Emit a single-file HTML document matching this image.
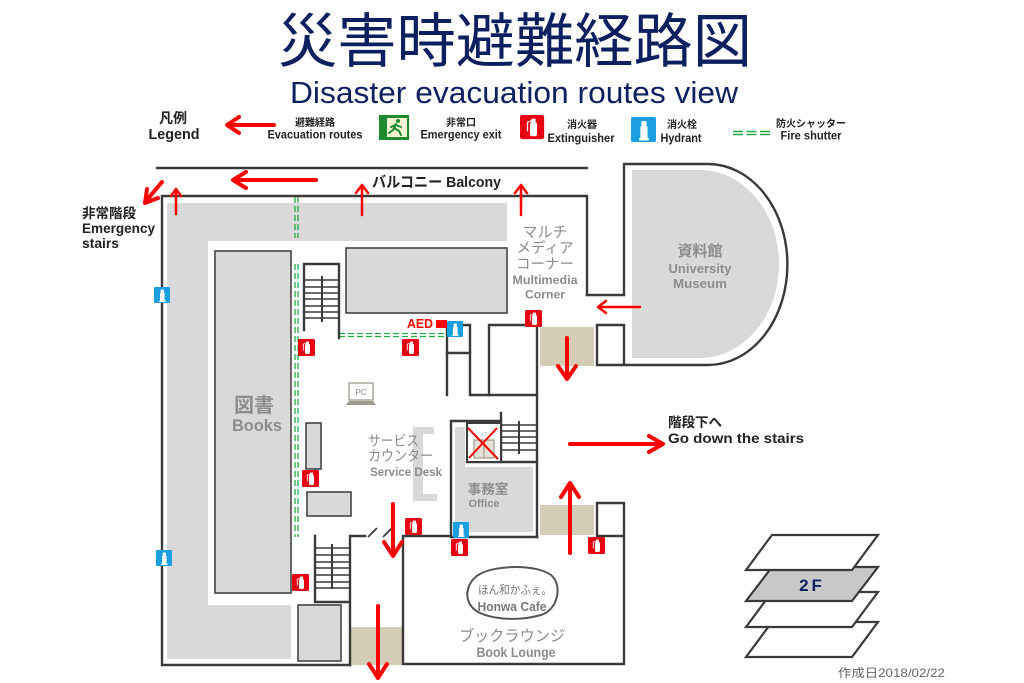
<!DOCTYPE html>
<html><head><meta charset="utf-8"><style>
html,body{margin:0;padding:0;background:#fff;}
svg{display:block;}
text{font-family:"Liberation Sans","Noto Sans CJK JP",sans-serif;}
</style></head><body>
<svg width="1024" height="683" viewBox="0 0 1024 683" xmlns="http://www.w3.org/2000/svg">
<defs>
<g id="ext">
<rect x="0" y="0" width="17" height="17" rx="1.5" fill="#e60012"/>
<rect x="7" y="5" width="5" height="10" rx="1.6" fill="#fff"/>
<rect x="8" y="2.6" width="3" height="2.8" fill="#fff"/>
<path d="M8,4 L5.3,5.2 L5.3,11.5" stroke="#fff" stroke-width="0.9" fill="none"/>
</g>
<g id="hyd">
<rect x="0" y="0" width="16" height="16" rx="1" fill="#1a9fe0"/>
<rect x="6" y="6" width="4.6" height="9" fill="#fff"/>
<rect x="6.6" y="2.5" width="3.4" height="3.8" rx="1.2" fill="#fff"/>
<rect x="5.2" y="13.5" width="6.2" height="1.5" fill="#fff"/>
</g>
</defs>

<!-- Title -->
<text x="515" y="62" font-size="59" fill="#0c1f5f" text-anchor="middle" textLength="474" lengthAdjust="spacingAndGlyphs" style="font-family:'Noto Sans CJK JP','Liberation Sans',sans-serif;font-weight:400">災害時避難経路図</text>
<text x="514" y="103" font-size="31" fill="#0c1f5f" text-anchor="middle" textLength="448" lengthAdjust="spacingAndGlyphs">Disaster evacuation routes view</text>

<!-- Legend -->
<text x="173" y="123" font-size="14" font-weight="bold" fill="#222" text-anchor="middle">凡例</text>
<text x="174" y="139" font-size="15" font-weight="bold" fill="#222" text-anchor="middle" textLength="51" lengthAdjust="spacingAndGlyphs">Legend</text>
<g stroke="#f00" stroke-width="4" fill="none" stroke-linecap="round" stroke-linejoin="round">
<line x1="274" y1="125" x2="229" y2="125"/><polyline points="239,117 227,125 239,133"/>
</g>
<text x="315" y="126" font-size="10" font-weight="bold" fill="#222" text-anchor="middle">避難経路</text>
<text x="315" y="138.5" font-size="11.5" font-weight="bold" fill="#222" text-anchor="middle" textLength="95" lengthAdjust="spacingAndGlyphs">Evacuation routes</text>
<!-- exit sign -->
<rect x="379" y="115" width="30" height="25" fill="#1d8a2f"/>
<rect x="386" y="118" width="21" height="19" fill="#f6f6d2"/>
<rect x="382" y="118" width="5" height="19" fill="#1d8a2f"/>
<circle cx="398" cy="121" r="2" fill="#1d8a2f"/>
<path d="M396,124 L393,130 L389,133 M394,128 L399,131 L401,135 M396,125 L401,127 M395,125 L391,127" stroke="#1d8a2f" stroke-width="2" fill="none" stroke-linecap="round"/>
<text x="461" y="126" font-size="10" font-weight="bold" fill="#222" text-anchor="middle">非常口</text>
<text x="461" y="138.5" font-size="11.5" font-weight="bold" fill="#222" text-anchor="middle" textLength="81" lengthAdjust="spacingAndGlyphs">Emergency exit</text>
<use href="#ext" transform="translate(520,115) scale(1.42)"/>
<text x="582" y="128" font-size="10" font-weight="bold" fill="#222" text-anchor="middle">消火器</text>
<text x="581" y="142" font-size="11.5" font-weight="bold" fill="#222" text-anchor="middle" textLength="67" lengthAdjust="spacingAndGlyphs">Extinguisher</text>
<use href="#hyd" transform="translate(631,117) scale(1.56)"/>
<text x="682" y="128" font-size="10" font-weight="bold" fill="#222" text-anchor="middle">消火栓</text>
<text x="681" y="142" font-size="11.5" font-weight="bold" fill="#222" text-anchor="middle" textLength="41" lengthAdjust="spacingAndGlyphs">Hydrant</text>
<g stroke="#22aa44" stroke-width="1.4" stroke-dasharray="10,3.5">
<line x1="733" y1="131.5" x2="773" y2="131.5"/><line x1="733" y1="134.5" x2="773" y2="134.5"/>
</g>
<text x="811" y="127" font-size="10" font-weight="bold" fill="#222" text-anchor="middle">防火シャッター</text>
<text x="811" y="139.5" font-size="11.5" font-weight="bold" fill="#222" text-anchor="middle" textLength="61" lengthAdjust="spacingAndGlyphs">Fire shutter</text>

<!-- gray fills -->
<path d="M167,203 H507 V241 H208 V605 H291 V659 H167 Z" fill="#d9d9d9"/>
<rect x="215" y="251" width="76" height="342" fill="#d9d9d9" stroke="#444" stroke-width="1.6"/>
<rect x="346" y="248" width="161" height="65" fill="#d9d9d9" stroke="#444" stroke-width="1.6"/>
<rect x="306" y="423" width="15" height="46" fill="#d9d9d9" stroke="#444" stroke-width="1.6"/>
<rect x="307" y="492" width="44" height="24" fill="#d9d9d9" stroke="#444" stroke-width="1.6"/>
<rect x="298" y="605" width="43" height="56" fill="#d9d9d9" stroke="#444" stroke-width="1.6"/>
<path d="M632,170 H700 A79,94 0 0 1 700,358 H632 Z" fill="#d9d9d9"/>
<path d="M455,427 H465 V467 H533 V532 H455 Z" fill="#d9d9d9"/>
<path d="M413,427 H434 V434 H423 V494 H437 V501 H413 Z" fill="#d9d9d9"/>
<rect x="540" y="327" width="54" height="39" fill="#d4ccb6"/>
<rect x="540" y="505" width="54" height="30" fill="#d4ccb6"/>
<rect x="351" y="627" width="51" height="38" fill="#d4ccb6"/>

<!-- green fire shutters -->
<g stroke="#22aa44" stroke-width="1.3" stroke-dasharray="6,3" fill="none">
<line x1="295" y1="197" x2="295" y2="238"/><line x1="298" y1="197" x2="298" y2="238"/>
<line x1="295" y1="264" x2="295" y2="537"/><line x1="298" y1="264" x2="298" y2="537"/>
<line x1="339" y1="333.5" x2="447" y2="333.5"/><line x1="339" y1="336.5" x2="447" y2="336.5"/>
</g>

<!-- walls -->
<g stroke="#3a3a3a" stroke-width="2.4" fill="none" stroke-linecap="square">
<path d="M157,168 H587"/>
<path d="M587,295 V196 H162 V665 H350"/>
<path d="M350,665 V536 H365"/>
<path d="M451,536 H403 V664 H624 V503 H597 V536 H624"/>
<path d="M501,421 H451 V537 H537"/>
<path d="M537,325 V537"/>
<path d="M467,462 H537"/>
<path d="M501,413 V462"/>
<path d="M447,395 V325 H470 V395 H537"/>
<path d="M447,353 H470"/>
<path d="M489,395 V325 H537"/>
<path d="M624,295 V164 H708 A79,100 0 0 1 708,365 H597 V325 H624 V365"/>
<path d="M587,295 H624"/>
<path d="M304,330 V264 H339 V338"/>
<path d="M315,536 V602 H349"/>
</g>
<g stroke="#3a3a3a" stroke-width="1.8">
<line x1="368" y1="537" x2="377" y2="528"/><line x1="383" y1="537" x2="392" y2="528"/>
</g>
<!-- stairs steps -->
<g stroke="#3a3a3a" stroke-width="1.5">
<line x1="304" y1="280" x2="339" y2="280"/><line x1="304" y1="287" x2="339" y2="287"/>
<line x1="304" y1="293" x2="339" y2="293"/><line x1="304" y1="299" x2="339" y2="299"/>
<line x1="304" y1="306" x2="339" y2="306"/><line x1="304" y1="312" x2="339" y2="312"/>
<line x1="304" y1="318" x2="339" y2="318"/><line x1="322" y1="276" x2="322" y2="322" stroke-width="2"/>
<line x1="315" y1="548" x2="349" y2="548"/><line x1="315" y1="555" x2="349" y2="555"/>
<line x1="315" y1="562" x2="349" y2="562"/><line x1="315" y1="568" x2="349" y2="568"/>
<line x1="315" y1="575" x2="349" y2="575"/><line x1="315" y1="582" x2="349" y2="582"/>
<line x1="315" y1="588" x2="349" y2="588"/><line x1="332" y1="544" x2="332" y2="589" stroke-width="2"/>
<line x1="501" y1="425" x2="537" y2="425"/><line x1="501" y1="431" x2="537" y2="431"/>
<line x1="501" y1="437" x2="537" y2="437"/><line x1="501" y1="443" x2="537" y2="443"/>
<line x1="501" y1="450" x2="537" y2="450"/><line x1="519" y1="421" x2="519" y2="454" stroke-width="2"/>
</g>
<!-- elevator -->
<rect x="467" y="423" width="34" height="39" fill="#fff" stroke="#3a3a3a" stroke-width="2"/>
<rect x="474" y="440" width="20" height="18" fill="#e6e2d8" stroke="#a09a8c" stroke-width="1.2"/>
<line x1="484" y1="440" x2="484" y2="458" stroke="#a09a8c" stroke-width="1.2"/>
<text x="484" y="436" font-size="7" fill="#888" text-anchor="middle">↓↑</text>
<g stroke="#f00" stroke-width="2"><line x1="468" y1="428" x2="498" y2="459"/><line x1="497" y1="428" x2="469" y2="458"/></g>

<!-- PC -->
<rect x="349" y="383" width="24" height="17" fill="#fff" stroke="#a09a8c" stroke-width="1.3"/>
<path d="M349,401 H373 L376,405 H346 Z" fill="#a09a8c"/>
<text x="361" y="395" font-size="8" fill="#8a8a8a" text-anchor="middle">PC</text>

<!-- cafe blob -->
<path d="M480,574 C496,565 536,564 551,575 C563,585 558,610 541,615 C520,621 494,620 478,612 C462,603 465,582 480,574 Z" fill="none" stroke="#555" stroke-width="2"/>

<!-- AED -->
<text x="407" y="328" font-size="13" font-weight="bold" fill="#f00" textLength="26" lengthAdjust="spacingAndGlyphs">AED</text>
<rect x="436" y="320" width="11" height="8" fill="#f00"/>

<!-- icons -->
<use href="#hyd" x="447" y="321"/>
<use href="#hyd" x="154" y="287"/>
<use href="#hyd" x="156" y="550"/>
<use href="#hyd" x="453" y="522"/>
<use href="#ext" x="298" y="339"/>
<use href="#ext" x="402" y="339"/>
<use href="#ext" x="525" y="310"/>
<use href="#ext" x="302" y="470"/>
<use href="#ext" x="292" y="574"/>
<use href="#ext" x="405" y="518"/>
<use href="#ext" x="451" y="539"/>
<use href="#ext" x="588" y="537"/>

<!-- arrows -->
<g stroke="#f00" fill="none" stroke-linecap="round" stroke-linejoin="round">
<g stroke-width="4">
<line x1="316" y1="180" x2="235" y2="180"/><polyline points="246,172 233,180 246,188"/>
<line x1="162" y1="182" x2="146" y2="201"/><polyline points="147,189 145,203 158,198"/>
<line x1="567" y1="338" x2="567" y2="377"/><polyline points="558,366 567,379 576,366"/>
<line x1="570" y1="444" x2="661" y2="444"/><polyline points="649,436 663,444 649,452"/>
<line x1="570" y1="553" x2="570" y2="485"/><polyline points="561,497 570,483 579,497"/>
<line x1="393" y1="504" x2="393" y2="554"/><polyline points="384,542 393,556 402,542"/>
<line x1="378" y1="606" x2="378" y2="676"/><polyline points="369,664 378,678 387,664"/>
</g>
<g stroke-width="2.5">
<line x1="176" y1="214" x2="176" y2="190"/><polyline points="171,196 176,189 181,196"/>
<line x1="362" y1="215" x2="362" y2="186"/><polyline points="356,193 362,185 368,193"/>
<line x1="521" y1="215" x2="521" y2="186"/><polyline points="515,193 521,185 527,193"/>
<line x1="640" y1="307" x2="599" y2="307"/><polyline points="606,301 598,307 606,313"/>
</g>
</g>

<!-- labels -->
<text x="372" y="187" font-size="15" font-weight="bold" fill="#222" textLength="129" lengthAdjust="spacingAndGlyphs">バルコニー Balcony</text>
<text x="82" y="218" font-size="13.5" font-weight="bold" fill="#222">非常階段</text>
<text x="82" y="233" font-size="14" font-weight="bold" fill="#222" textLength="73" lengthAdjust="spacingAndGlyphs">Emergency</text>
<text x="82" y="248" font-size="14" font-weight="bold" fill="#222" textLength="37" lengthAdjust="spacingAndGlyphs">stairs</text>
<text x="668" y="427" font-size="13.5" font-weight="bold" fill="#222">階段下へ</text>
<text x="668" y="443" font-size="14" font-weight="bold" fill="#222" textLength="136" lengthAdjust="spacingAndGlyphs">Go down the stairs</text>

<g fill="#8c8c8c" text-anchor="middle">
<text x="545" y="237" font-size="15">マルチ</text>
<text x="545" y="253" font-size="14.5">メディア</text>
<text x="545" y="269" font-size="14.5">コーナー</text>
<text x="545" y="284" font-size="12" font-weight="bold" textLength="65" lengthAdjust="spacingAndGlyphs">Multimedia</text>
<text x="545" y="298.5" font-size="12" font-weight="bold" textLength="40" lengthAdjust="spacingAndGlyphs">Corner</text>
<text x="700" y="256" font-size="15" font-weight="bold">資料館</text>
<text x="700" y="273" font-size="13" font-weight="bold" textLength="63" lengthAdjust="spacingAndGlyphs">University</text>
<text x="700" y="288" font-size="13" font-weight="bold" textLength="54" lengthAdjust="spacingAndGlyphs">Museum</text>
<text x="254" y="412" font-size="20" font-weight="bold">図書</text>
<text x="257" y="431" font-size="17" font-weight="bold" textLength="50" lengthAdjust="spacingAndGlyphs">Books</text>
<text x="488" y="494" font-size="13.5" font-weight="bold">事務室</text>
<text x="484" y="507" font-size="11" font-weight="bold" textLength="31" lengthAdjust="spacingAndGlyphs">Office</text>
<text x="512" y="641" font-size="15.5" textLength="106" lengthAdjust="spacingAndGlyphs">ブックラウンジ</text>
<text x="516" y="657" font-size="14" font-weight="bold" textLength="79" lengthAdjust="spacingAndGlyphs">Book Lounge</text>
</g>
<g fill="#8c8c8c">
<text x="368" y="446" font-size="14.5" textLength="51" lengthAdjust="spacingAndGlyphs">サービス</text>
<text x="368" y="461" font-size="14.5" textLength="65" lengthAdjust="spacingAndGlyphs">カウンター</text>
<text x="370" y="476" font-size="12" font-weight="bold" textLength="72" lengthAdjust="spacingAndGlyphs">Service Desk</text>
</g>
<g fill="#777" text-anchor="middle">
<text x="515" y="594" font-size="12" textLength="74" lengthAdjust="spacingAndGlyphs">ほん和かふぇ。</text>
<text x="512" y="611" font-size="13" font-weight="bold" textLength="69" lengthAdjust="spacingAndGlyphs">Honwa Cafe</text>
</g>

<!-- floor indicator -->
<g stroke="#3a3a3a" stroke-width="2.2" stroke-linejoin="miter">
<polygon points="772,622 878,622 852,657 746,657" fill="#fff"/>
<polygon points="772,592 878,592 852,627 746,627" fill="#fff"/>
<polygon points="772,567 878,567 852,601 746,601" fill="#c8c8c8"/>
<polygon points="772,535 878,535 852,570 746,570" fill="#fff"/>
</g>
<text x="812" y="591" font-size="17" font-weight="bold" fill="#0c1f5f" text-anchor="middle" letter-spacing="3">2F</text>
<text x="838" y="677" font-size="12" fill="#666" textLength="107" lengthAdjust="spacingAndGlyphs">作成日2018/02/22</text>
</svg>
</body></html>
